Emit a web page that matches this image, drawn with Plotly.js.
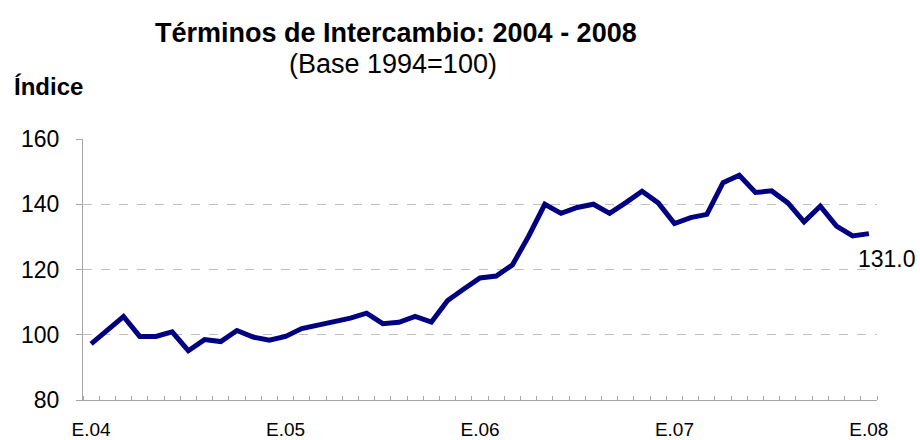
<!DOCTYPE html>
<html>
<head>
<meta charset="utf-8">
<script src="https://cdn.plot.ly/plotly-3.0.1.min.js"></script>
<style>html,body{margin:0;padding:0;background:#fff;}#chart{width:920px;height:440px;}</style>
</head>
<body>
<div id="chart"></div>
<script>
// Monthly index, Jan 2004 .. Jan 2008 (49 months)
const months = [
  "E.04","F.04","M.04","A.04","M.04","J.04","J.04","A.04","S.04","O.04","N.04","D.04",
  "E.05","F.05","M.05","A.05","M.05","J.05","J.05","A.05","S.05","O.05","N.05","D.05",
  "E.06","F.06","M.06","A.06","M.06","J.06","J.06","A.06","S.06","O.06","N.06","D.06",
  "E.07","F.07","M.07","A.07","M.07","J.07","J.07","A.07","S.07","O.07","N.07","D.07",
  "E.08"
];
const indexValues = [
  97.2, 101.5, 105.6, 99.5, 99.5, 100.9, 95.1, 98.5, 97.9, 101.3, 99.3, 98.3,
  99.5, 101.9, 103.0, 104.1, 105.1, 106.6, 103.4, 103.8, 105.6, 103.9, 110.5, 114.0,
  117.4, 118.0, 121.4, 130.2, 140.0, 137.2, 139.0, 140.0, 137.2, 140.5, 144.0, 140.4,
  134.1, 135.9, 136.9, 146.6, 148.9, 143.6, 144.1, 140.4, 134.6, 139.4, 133.3, 130.3,
  131.0
];
const labelIdx = [0, 12, 24, 36, 48];
const labelText = labelIdx.map(i => months[i]);
const yTicks = [80, 100, 120, 140, 160];
const lastLabel = "131.0";

const xIdx = months.map((_, i) => i);
const font = "Arial, 'Liberation Sans', sans-serif";

const trace = {
  x: xIdx,
  y: indexValues,
  type: "scatter",
  mode: "lines",
  line: { color: "#000080", width: 5 },
  hoverinfo: "skip"
};

const n = months.length;
const layout = {
  width: 920, height: 440,
  margin: { l: 83, r: 43, t: 138.5, b: 39.5 },
  paper_bgcolor: "#fff", plot_bgcolor: "#fff",
  showlegend: false,
  font: { family: font, color: "#000" },
  xaxis: {
    range: [-0.5, n - 0.5],
    tickmode: "array", tickvals: labelIdx, ticktext: labelText,
    ticks: "", ticklabelstandoff: 12,
    tickfont: { size: 19, family: font, color: "#000" },
    showgrid: false, zeroline: false,
    showline: true, linecolor: "#a6a6a6", linewidth: 1,
    minor: { ticks: "inside", ticklen: 4, tickcolor: "#a6a6a6", tickwidth: 1,
             tick0: -0.5, dtick: 1, showgrid: false }
  },
  yaxis: {
    range: [80, 160],
    tickmode: "array", tickvals: yTicks,
    ticks: "outside", ticklen: 6, tickcolor: "#a6a6a6",
    ticklabelstandoff: 12,
    tickfont: { size: 23, family: font, color: "#000" },
    showgrid: true, gridcolor: "#c0c0c0", gridwidth: 1, griddash: "dash",
    zeroline: false,
    showline: true, linecolor: "#a6a6a6", linewidth: 1
  },
  annotations: [
    { xref: "paper", yref: "paper", x: 0.394, y: 1.405, xanchor: "center", yanchor: "middle",
      text: "<b>Términos de Intercambio: 2004 - 2008</b>", showarrow: false,
      font: { size: 27, family: font, color: "#000" } },
    { xref: "paper", yref: "paper", x: 0.390, y: 1.288, xanchor: "center", yanchor: "middle",
      text: "(Base 1994=100)", showarrow: false,
      font: { size: 27, family: font, color: "#000" } },
    { xref: "paper", yref: "paper", x: -0.0894, y: 1.200, xanchor: "left", yanchor: "middle",
      text: "<b>Índice</b>", showarrow: false,
      font: { size: 24, family: font, color: "#000" } },
    { xref: "x", yref: "y", x: n - 1, y: indexValues[n - 1], xanchor: "center", yanchor: "top",
      xshift: 18, yshift: -10,
      text: lastLabel, showarrow: false,
      font: { size: 23, family: font, color: "#000" } }
  ]
};

Plotly.newPlot("chart", [trace], layout, { staticPlot: true, displayModeBar: false });
</script>
</body>
</html>
